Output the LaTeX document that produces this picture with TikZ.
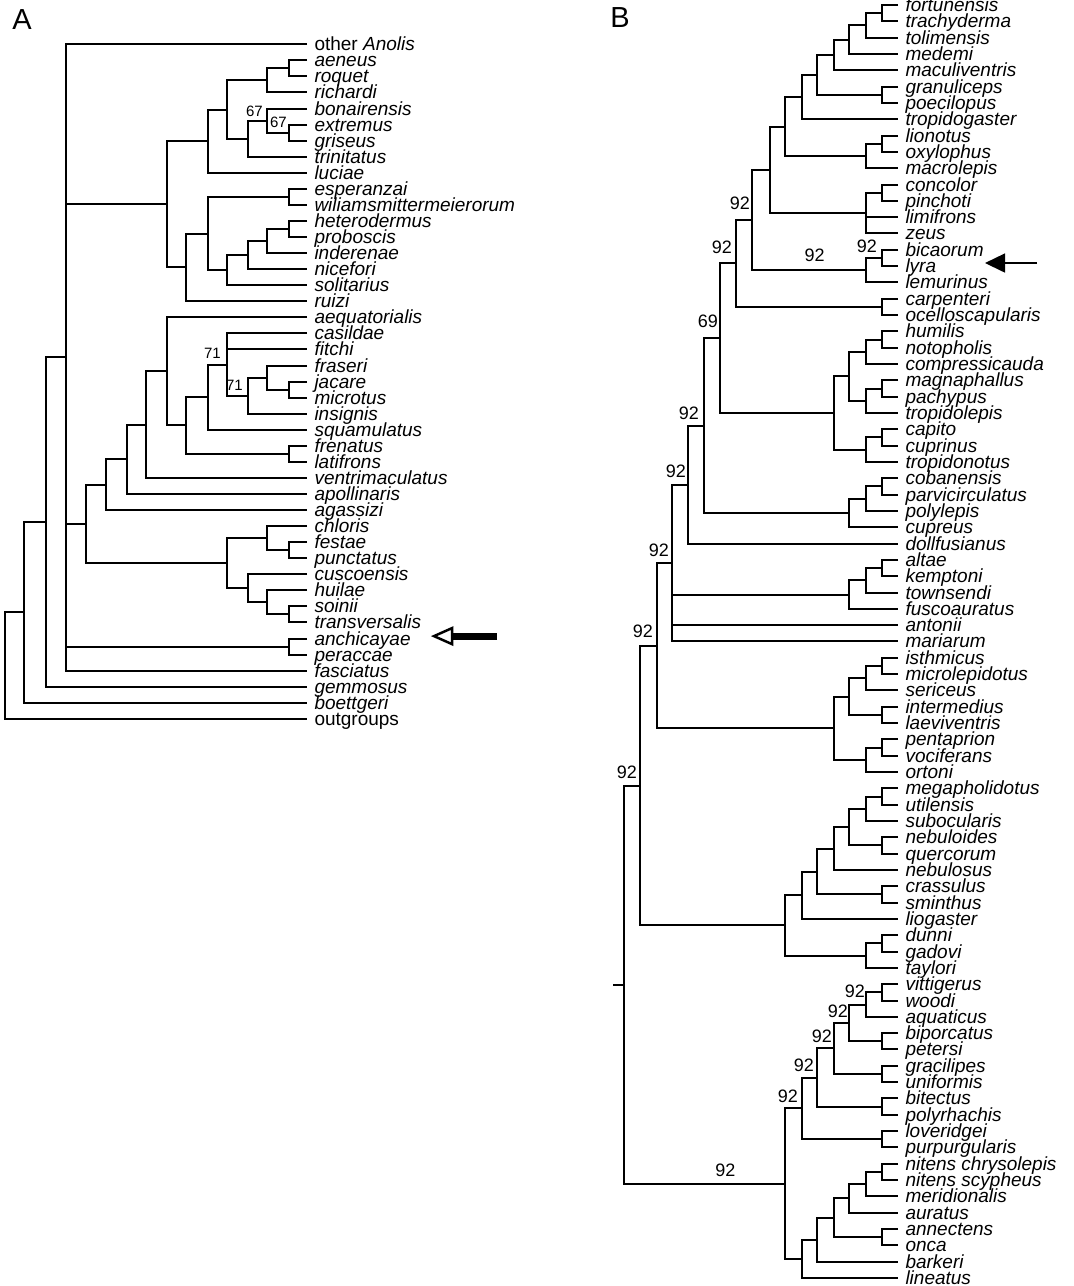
\documentclass[tikz,border=0pt]{standalone}
\usepackage{fontspec}
\setmainfont{Liberation Sans}
\usepackage{tikz}
\usetikzlibrary{calc}
\usetikzlibrary{arrows.meta}

\tikzset{
 taxon/.style={anchor=west, inner xsep=7.5pt, inner ysep=0pt, outer sep=0pt, text height=13pt, text depth=0pt, font=\fontsize{19}{19}\selectfont\itshape},
 branch/.style={line width=2pt},
 suppA/.style={anchor=south east, inner sep=0pt, font=\fontsize{15}{15}\selectfont},
 suppB/.style={anchor=south east, inner sep=0pt, font=\fontsize{18}{18}\selectfont},
 panel/.style={inner sep=0pt, font=\fontsize{29}{29}\selectfont}
}

\begin{document}
\begin{tikzpicture}[x=1pt, y=-1pt]
 \useasboundingbox (0,0) rectangle (1074,1286);
 \node [panel] (labA) at (22,20) {A};
 \node [panel] (labB) at (620,18) {B};

 \begin{scope}[shift={(0,28.24)}, y=-16.06pt]
 \node [taxon] (a1) at (307,1) {{\upshape other} Anolis};
 \foreach \nm [count=\i from 2] in {aeneus, roquet, richardi, bonairensis, extremus, griseus, trinitatus, luciae, esperanzai, wiliamsmittermeierorum, heterodermus, proboscis, inderenae, nicefori, solitarius, ruizi, aequatorialis, casildae, fitchi, fraseri, jacare, microtus, insignis, squamulatus, frenatus, latifrons, ventrimaculatus, apollinaris, agassizi, chloris, festae, punctatus, cuscoensis, huilae, soinii, transversalis, anchicayae, peraccae, fasciatus, gemmosus, boettgeri}
  \node [taxon] (a\i) at (307,\i) {\nm};
 \node [taxon] (a43) at (307,43) {\upshape outgroups};

 \coordinate (p1) at (289,2.5);
 \coordinate (p2) at (267,3.25);
 \coordinate (p3) at (289,6.5);
 \coordinate (p4) at (267,5.75);
 \coordinate (p5) at (248,6.875);
 \coordinate (p6) at (227,5.063);
 \coordinate (p7) at (208,7.031);
 \coordinate (p8) at (289,10.5);
 \coordinate (p9) at (289,12.5);
 \coordinate (p10) at (267,13.25);
 \coordinate (p11) at (248,14.125);
 \coordinate (p12) at (227,15.063);
 \coordinate (p13) at (208,12.781);
 \coordinate (p14) at (186,14.891);
 \coordinate (p15) at (167,10.961);
 \coordinate (p16) at (289,22.5);
 \coordinate (p17) at (267,21.75);
 \coordinate (p18) at (248,22.875);
 \coordinate (p19) at (227,20.938);
 \coordinate (p20) at (208,22.969);
 \coordinate (p21) at (289,26.5);
 \coordinate (p22) at (186,24.734);
 \coordinate (p23) at (167,21.367);
 \coordinate (p24) at (146,24.684);
 \coordinate (p25) at (127,26.842);
 \coordinate (p26) at (106,28.421);
 \coordinate (p27) at (289,32.5);
 \coordinate (p28) at (267,31.75);
 \coordinate (p29) at (289,36.5);
 \coordinate (p30) at (267,35.75);
 \coordinate (p31) at (248,34.875);
 \coordinate (p32) at (227,33.313);
 \coordinate (p33) at (86,30.867);
 \coordinate (p34) at (289,38.5);
 \coordinate (p35) at (66,20.5);
 \coordinate (p36) at (46,30.75);
 \coordinate (p37) at (24,36.375);
 \coordinate (p38) at (5,39.688);

 \draw [branch] (a2) -| (p1) |- (a3);
 \draw [branch] (p1) -| (p2) |- (a4);
 \draw [branch] (a6) -| (p3) |- (a7);
 \draw [branch] (a5) -| (p4) |- (p3);
 \draw [branch] (p4) -| (p5) |- (a8);
 \draw [branch] (p2) -| (p6) |- (p5);
 \draw [branch] (p6) -| (p7) |- (a9);
 \draw [branch] (a10) -| (p8) |- (a11);
 \draw [branch] (a12) -| (p9) |- (a13);
 \draw [branch] (p9) -| (p10) |- (a14);
 \draw [branch] (p10) -| (p11) |- (a15);
 \draw [branch] (p11) -| (p12) |- (a16);
 \draw [branch] (p8) -| (p13) |- (p12);
 \draw [branch] (p13) -| (p14) |- (a17);
 \draw [branch] (p7) -| (p15) |- (p14);
 \draw [branch] (a22) -| (p16) |- (a23);
 \draw [branch] (a21) -| (p17) |- (p16);
 \draw [branch] (p17) -| (p18) |- (a24);
 \draw [branch] (a19) -| (p19) |- (p18) (p19) |- (a20);
 \draw [branch] (p19) -| (p20) |- (a25);
 \draw [branch] (a26) -| (p21) |- (a27);
 \draw [branch] (p20) -| (p22) |- (p21);
 \draw [branch] (a18) -| (p23) |- (p22);
 \draw [branch] (p23) -| (p24) |- (a28);
 \draw [branch] (p24) -| (p25) |- (a29);
 \draw [branch] (p25) -| (p26) |- (a30);
 \draw [branch] (a32) -| (p27) |- (a33);
 \draw [branch] (a31) -| (p28) |- (p27);
 \draw [branch] (a36) -| (p29) |- (a37);
 \draw [branch] (a35) -| (p30) |- (p29);
 \draw [branch] (a34) -| (p31) |- (p30);
 \draw [branch] (p28) -| (p32) |- (p31);
 \draw [branch] (p26) -| (p33) |- (p32);
 \draw [branch] (a38) -| (p34) |- (a39);
 \draw [branch] (a1) -| (p35) |- (a40) (p35) |- (p15) (p35) |- (p33) (p35) |- (p34);
 \draw [branch] (p35) -| (p36) |- (a41);
 \draw [branch] (p36) -| (p37) |- (a42);
 \draw [branch] (p37) -| (p38) |- (a43);

 \node [suppA, xshift=-4pt, yshift=4pt] at (p4) {67};
 \node [suppA, xshift=-2pt, yshift=5pt] at (p3) {67};
 \node [suppA, xshift=-6pt, yshift=6pt] at (p19) {71};
 \node [suppA, xshift=-5pt, yshift=5pt] at (p18) {71};

 \coordinate (tailA) at (497,37.85);
 \coordinate (baseA) at (452,37.85);
 \coordinate (tipA) at (434,37.85);
 \draw [line width=7pt] (tailA) -- (baseA);
 \draw [line width=2.5pt, fill=white] (tipA) -- ($(baseA)+(0,8pt)$) -- ($(baseA)+(0,-8pt)$) -- cycle;
 \end{scope}

 \begin{scope}[shift={(0,-11.32)}, y=-16.32pt]
 \foreach \nm [count=\i] in {fortunensis, trachyderma, tolimensis, medemi, maculiventris, granuliceps, poecilopus, tropidogaster, lionotus, oxylophus, macrolepis, concolor, pinchoti, limifrons, zeus, bicaorum, lyra, lemurinus, carpenteri, ocelloscapularis, humilis, notopholis, compressicauda, magnaphallus, pachypus, tropidolepis, capito, cuprinus, tropidonotus, cobanensis, parvicirculatus, polylepis, cupreus, dollfusianus, altae, kemptoni, townsendi, fuscoauratus, antonii, mariarum, isthmicus, microlepidotus, sericeus, intermedius, laeviventris, pentaprion, vociferans, ortoni, megapholidotus, utilensis, subocularis, nebuloides, quercorum, nebulosus, crassulus, sminthus, liogaster, dunni, gadovi, taylori, vittigerus, woodi, aquaticus, biporcatus, petersi, gracilipes, uniformis, bitectus, polyrhachis, loveridgei, purpurgularis, nitens chrysolepis, nitens scypheus, meridionalis, auratus, annectens, onca, barkeri, lineatus}
  \node [taxon] (b\i) at (898,\i) {\nm};

 \coordinate (q1) at (882,1.5);
 \coordinate (q2) at (866,2.25);
 \coordinate (q3) at (849,3.125);
 \coordinate (q4) at (834,4.063);
 \coordinate (q5) at (882,6.5);
 \coordinate (q6) at (817,5.281);
 \coordinate (q7) at (802,6.641);
 \coordinate (q8) at (882,9.5);
 \coordinate (q9) at (866,10.25);
 \coordinate (q10) at (785,8.445);
 \coordinate (q11) at (882,12.5);
 \coordinate (q12) at (866,13.75);
 \coordinate (q13) at (770,11.098);
 \coordinate (q14) at (882,16.5);
 \coordinate (q15) at (866,17.25);
 \coordinate (q16) at (752,14.174);
 \coordinate (q17) at (882,19.5);
 \coordinate (q18) at (736,16.837);
 \coordinate (q19) at (882,21.5);
 \coordinate (q20) at (866,22.25);
 \coordinate (q21) at (882,24.5);
 \coordinate (q22) at (866,25.25);
 \coordinate (q23) at (849,23.75);
 \coordinate (q24) at (882,27.5);
 \coordinate (q25) at (866,28.25);
 \coordinate (q26) at (834,26);
 \coordinate (q27) at (720,21.419);
 \coordinate (q28) at (882,30.5);
 \coordinate (q29) at (866,31.25);
 \coordinate (q30) at (849,32.125);
 \coordinate (q31) at (704,26.772);
 \coordinate (q32) at (688,30.386);
 \coordinate (q33) at (882,35.5);
 \coordinate (q34) at (866,36.25);
 \coordinate (q35) at (849,37.125);
 \coordinate (q36) at (672,35.193);
 \coordinate (q37) at (882,41.5);
 \coordinate (q38) at (866,42.25);
 \coordinate (q39) at (882,44.5);
 \coordinate (q40) at (849,43.375);
 \coordinate (q41) at (882,46.5);
 \coordinate (q42) at (866,47.25);
 \coordinate (q43) at (834,45.313);
 \coordinate (q44) at (657,40.253);
 \coordinate (q45) at (882,49.5);
 \coordinate (q46) at (866,50.25);
 \coordinate (q47) at (882,52.5);
 \coordinate (q48) at (849,51.375);
 \coordinate (q49) at (834,52.688);
 \coordinate (q50) at (882,55.5);
 \coordinate (q51) at (817,54.094);
 \coordinate (q52) at (802,55.547);
 \coordinate (q53) at (882,58.5);
 \coordinate (q54) at (866,59.25);
 \coordinate (q55) at (785,57.398);
 \coordinate (q56) at (640,48.826);
 \coordinate (q57) at (882,61.5);
 \coordinate (q58) at (866,62.25);
 \coordinate (q59) at (882,64.5);
 \coordinate (q60) at (849,63.375);
 \coordinate (q61) at (882,66.5);
 \coordinate (q62) at (834,64.938);
 \coordinate (q63) at (882,68.5);
 \coordinate (q64) at (817,66.719);
 \coordinate (q65) at (882,70.5);
 \coordinate (q66) at (802,68.609);
 \coordinate (q67) at (882,72.5);
 \coordinate (q68) at (866,73.25);
 \coordinate (q69) at (849,74.125);
 \coordinate (q70) at (882,76.5);
 \coordinate (q71) at (834,75.313);
 \coordinate (q72) at (817,76.656);
 \coordinate (q73) at (802,77.828);
 \coordinate (q74) at (785,73.219);
 \coordinate (q75) at (624,61.022);
 \coordinate (qroot) at (613,61.022);

 \draw [branch] (b1) -| (q1) |- (b2);
 \draw [branch] (q1) -| (q2) |- (b3);
 \draw [branch] (q2) -| (q3) |- (b4);
 \draw [branch] (q3) -| (q4) |- (b5);
 \draw [branch] (b6) -| (q5) |- (b7);
 \draw [branch] (q4) -| (q6) |- (q5);
 \draw [branch] (q6) -| (q7) |- (b8);
 \draw [branch] (b9) -| (q8) |- (b10);
 \draw [branch] (q8) -| (q9) |- (b11);
 \draw [branch] (q7) -| (q10) |- (q9);
 \draw [branch] (b12) -| (q11) |- (b13);
 \draw [branch] (q11) -| (q12) |- (b15) (q12) |- (b14);
 \draw [branch] (q10) -| (q13) |- (q12);
 \draw [branch] (b16) -| (q14) |- (b17);
 \draw [branch] (q14) -| (q15) |- (b18);
 \draw [branch] (q13) -| (q16) |- (q15);
 \draw [branch] (b19) -| (q17) |- (b20);
 \draw [branch] (q16) -| (q18) |- (q17);
 \draw [branch] (b21) -| (q19) |- (b22);
 \draw [branch] (q19) -| (q20) |- (b23);
 \draw [branch] (b24) -| (q21) |- (b25);
 \draw [branch] (q21) -| (q22) |- (b26);
 \draw [branch] (q20) -| (q23) |- (q22);
 \draw [branch] (b27) -| (q24) |- (b28);
 \draw [branch] (q24) -| (q25) |- (b29);
 \draw [branch] (q23) -| (q26) |- (q25);
 \draw [branch] (q18) -| (q27) |- (q26);
 \draw [branch] (b30) -| (q28) |- (b31);
 \draw [branch] (q28) -| (q29) |- (b32);
 \draw [branch] (q29) -| (q30) |- (b33);
 \draw [branch] (q27) -| (q31) |- (q30);
 \draw [branch] (q31) -| (q32) |- (b34);
 \draw [branch] (b35) -| (q33) |- (b36);
 \draw [branch] (q33) -| (q34) |- (b37);
 \draw [branch] (q34) -| (q35) |- (b38);
 \draw [branch] (q32) -| (q36) |- (b40) (q36) |- (q35) (q36) |- (b39);
 \draw [branch] (b41) -| (q37) |- (b42);
 \draw [branch] (q37) -| (q38) |- (b43);
 \draw [branch] (b44) -| (q39) |- (b45);
 \draw [branch] (q38) -| (q40) |- (q39);
 \draw [branch] (b46) -| (q41) |- (b47);
 \draw [branch] (q41) -| (q42) |- (b48);
 \draw [branch] (q40) -| (q43) |- (q42);
 \draw [branch] (q36) -| (q44) |- (q43);
 \draw [branch] (b49) -| (q45) |- (b50);
 \draw [branch] (q45) -| (q46) |- (b51);
 \draw [branch] (b52) -| (q47) |- (b53);
 \draw [branch] (q46) -| (q48) |- (q47);
 \draw [branch] (q48) -| (q49) |- (b54);
 \draw [branch] (b55) -| (q50) |- (b56);
 \draw [branch] (q49) -| (q51) |- (q50);
 \draw [branch] (q51) -| (q52) |- (b57);
 \draw [branch] (b58) -| (q53) |- (b59);
 \draw [branch] (q53) -| (q54) |- (b60);
 \draw [branch] (q52) -| (q55) |- (q54);
 \draw [branch] (q44) -| (q56) |- (q55);
 \draw [branch] (b61) -| (q57) |- (b62);
 \draw [branch] (q57) -| (q58) |- (b63);
 \draw [branch] (b64) -| (q59) |- (b65);
 \draw [branch] (q58) -| (q60) |- (q59);
 \draw [branch] (b66) -| (q61) |- (b67);
 \draw [branch] (q60) -| (q62) |- (q61);
 \draw [branch] (b68) -| (q63) |- (b69);
 \draw [branch] (q62) -| (q64) |- (q63);
 \draw [branch] (b70) -| (q65) |- (b71);
 \draw [branch] (q64) -| (q66) |- (q65);
 \draw [branch] (b72) -| (q67) |- (b73);
 \draw [branch] (q67) -| (q68) |- (b74);
 \draw [branch] (q68) -| (q69) |- (b75);
 \draw [branch] (b76) -| (q70) |- (b77);
 \draw [branch] (q69) -| (q71) |- (q70);
 \draw [branch] (q71) -| (q72) |- (b78);
 \draw [branch] (q72) -| (q73) |- (b79);
 \draw [branch] (q66) -| (q74) |- (q73);
 \draw [branch] (q56) -| (q75) |- (q74);
 \draw [branch] (qroot) -- (q75);

 \node [suppB, xshift=-2pt, yshift=10pt] at (q16) {92};
 \node [suppB, xshift=-4pt, yshift=10pt] at (q18) {92};
 \node [suppB, xshift=-5pt, yshift=5pt] at (q14) {92};
 \node [suppB, anchor=south, yshift=8pt] at ($(q16 |- q15)!.55!(q15)$) {92};
 \node [suppB, xshift=-2pt, yshift=10pt] at (q27) {69};
 \node [suppB, xshift=-5pt, yshift=6pt] at (q31) {92};
 \node [suppB, xshift=-2pt, yshift=7pt] at (q32) {92};
 \node [suppB, xshift=-3pt, yshift=6pt] at (q36) {92};
 \node [suppB, xshift=-4pt, yshift=8pt] at (q44) {92};
 \node [suppB, xshift=-3pt, yshift=7pt] at (q56) {92};
 \node [suppB, anchor=south, yshift=7pt] at ($(q75 |- q74)!.63!(q74)$) {92};
 \node [suppB, xshift=-1pt, yshift=7pt] at (q58) {92};
 \node [suppB, xshift=-1pt, yshift=5pt] at (q60) {92};
 \node [suppB, xshift=-2pt, yshift=5.5pt] at (q62) {92};
 \node [suppB, xshift=-3pt, yshift=5.5pt] at (q64) {92};
 \node [suppB, xshift=-4pt, yshift=5.5pt] at (q66) {92};

 \coordinate (tailB) at (1037,16.81);
 \coordinate (tipB) at (985,16.81);
 \draw [line width=1.5pt, -{Triangle[length=20pt, width=19pt]}] (tailB) -- (tipB);
 \end{scope}
\end{tikzpicture}
\end{document}
